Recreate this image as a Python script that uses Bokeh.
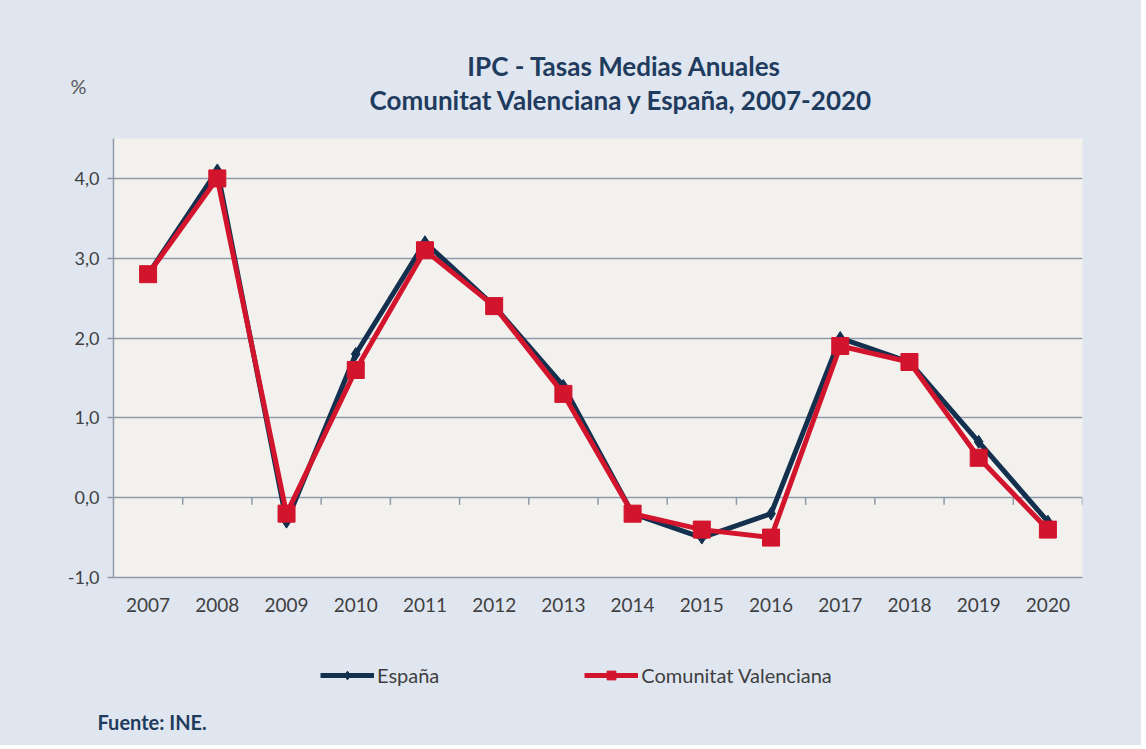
from bokeh.plotting import figure
from bokeh.layouts import column
from bokeh.models import (FactorRange, FixedTicker, Legend, LegendItem,
                          ColumnDataSource, Range1d)
from bokeh.core.properties import value
from bokeh.embed import file_html
from bokeh.resources import INLINE

# ---- data ----
years = ["2007", "2008", "2009", "2010", "2011", "2012", "2013",
         "2014", "2015", "2016", "2017", "2018", "2019", "2020"]
espana = [2.8, 4.1, -0.3, 1.8, 3.2, 2.4, 1.4, -0.2, -0.5, -0.2, 2.0, 1.7, 0.7, -0.3]
cval = [2.8, 4.0, -0.2, 1.6, 3.1, 2.4, 1.3, -0.2, -0.4, -0.5, 1.9, 1.7, 0.5, -0.4]
y_ticks = [-1, 0, 1, 2, 3, 4]
y_tick_labels = ["-1,0", "0,0", "1,0", "2,0", "3,0", "4,0"]
title_lines = ["IPC - Tasas Medias Anuales", "Comunitat Valenciana y España, 2007-2020"]
series_names = ["España", "Comunitat Valenciana"]
source_note = "Fuente: INE."
unit_label = "%"

# ---- style ----
FONT = "Lato"
BG = "#dfe6f0"
FRAME = "#f2f1ee"
GRID = "#8e9aa8"
TXT = "#404040"
NAVY = "#13304f"
RED = "#d2142c"
TITLE = "#1f3b5e"
W = 1141


def blank(height):
    f = figure(width=W, height=height, x_range=Range1d(0, W), y_range=Range1d(height, 0),
               output_backend="svg", toolbar_location=None, title=None,
               x_axis_location=None, y_axis_location=None, frame_align=False,
               min_border=0, min_border_left=0, min_border_right=0,
               min_border_top=0, min_border_bottom=0)
    f.grid.visible = False
    f.background_fill_color = BG
    f.border_fill_color = BG
    f.outline_line_color = None
    return f


# ---- header: title + unit ----
H_HEAD = 138
head = blank(H_HEAD)
head.text(x=[624, 621], y=[65, 99], text=title_lines, text_font=value(FONT),
          text_font_style="bold", text_font_size="26px", text_color=TITLE,
          text_align="center", text_baseline="middle")
head.text(x=[78], y=[85], text=[unit_label], text_font=value(FONT),
          text_font_size="20px", text_color="#595959",
          text_align="center", text_baseline="middle")

# ---- main chart ----
p = figure(width=W, height=502, x_range=FactorRange(factors=years, range_padding=0),
           y_range=(-1.0, 4.5), output_backend="svg", toolbar_location=None, title=None,
           frame_align=False,
           min_border_left=113, min_border_right=59, min_border_top=0,
           min_border_bottom=63)
p.background_fill_color = FRAME
p.border_fill_color = BG
p.outline_line_color = None

p.yaxis.ticker = FixedTicker(ticks=y_ticks)
p.yaxis.major_label_overrides = {t: l for t, l in zip(y_ticks, y_tick_labels)}
p.yaxis.axis_line_color = GRID
p.yaxis.axis_line_width = 1.5
p.yaxis.major_tick_line_color = GRID
p.yaxis.major_tick_line_width = 1.5
p.yaxis.major_tick_out = 6
p.yaxis.major_tick_in = 0
p.yaxis.minor_tick_line_color = None
p.yaxis.major_label_standoff = 8
p.yaxis.major_label_text_font = FONT
p.yaxis.major_label_text_font_size = "18px"
p.yaxis.major_label_text_color = TXT

p.xaxis.axis_line_color = GRID
p.xaxis.axis_line_width = 1.5
p.xaxis.major_tick_line_color = None
p.xaxis.minor_tick_line_color = None
p.xaxis.major_label_standoff = 14
p.xaxis.major_label_text_font = FONT
p.xaxis.major_label_text_font_size = "19px"
p.xaxis.major_label_text_color = TXT

p.xgrid.grid_line_color = None
p.ygrid.ticker = FixedTicker(ticks=y_ticks)
p.ygrid.grid_line_color = GRID
p.ygrid.grid_line_width = 1.5

# category boundary tick marks on the zero line
n = len(years)
bounds = list(range(1, n + 1))
p.segment(x0=bounds, y0=[0] * n, x1=bounds, y1=[-0.09] * n,
          line_color=GRID, line_width=1.5)

src = ColumnDataSource(dict(x=years, es=espana, cv=cval))
p.line("x", "es", source=src, line_color=NAVY, line_width=5)
p.line("x", "cv", source=src, line_color=RED, line_width=5)
p.scatter("x", "es", source=src, marker="diamond", size=13,
          fill_color=NAVY, line_color=NAVY)
p.scatter("x", "cv", source=src, marker="square", size=17,
          fill_color=RED, line_color=RED)

# ---- footer: legend + source ----
H_FOOT = 105
foot = blank(H_FOOT)
# legend renderers share the chart's source; their categorical x values fall
# outside the footer's numeric range, so only the legend swatches are drawn
fl1 = foot.line("x", "es", source=src, line_color=NAVY, line_width=5)
fm1 = foot.scatter("x", "es", source=src, marker="diamond", size=11,
                   fill_color=NAVY, line_color=NAVY)
fl2 = foot.line("x", "cv", source=src, line_color=RED, line_width=5)
fm2 = foot.scatter("x", "cv", source=src, marker="square", size=15,
                   fill_color=RED, line_color=RED)
legend = Legend(items=[LegendItem(label=series_names[0], renderers=[fl1, fm1]),
                       LegendItem(label=series_names[1], renderers=[fl2, fm2])],
                orientation="horizontal", location=(320, 58),
                background_fill_alpha=0, border_line_color=None,
                padding=0, margin=0, spacing=145, glyph_width=54, glyph_height=22,
                label_standoff=3, label_text_font=FONT,
                label_text_font_size="20px", label_text_color=TXT)
foot.add_layout(legend, "center")
foot.text(x=[97], y=[81], text=[source_note], text_font=value(FONT),
          text_font_style="bold", text_font_size="20px", text_color=TITLE,
          text_align="left", text_baseline="middle")

layout = column(head, p, foot, spacing=0, styles={"background-color": BG})
open("out.html", "w").write(file_html(layout, INLINE))
